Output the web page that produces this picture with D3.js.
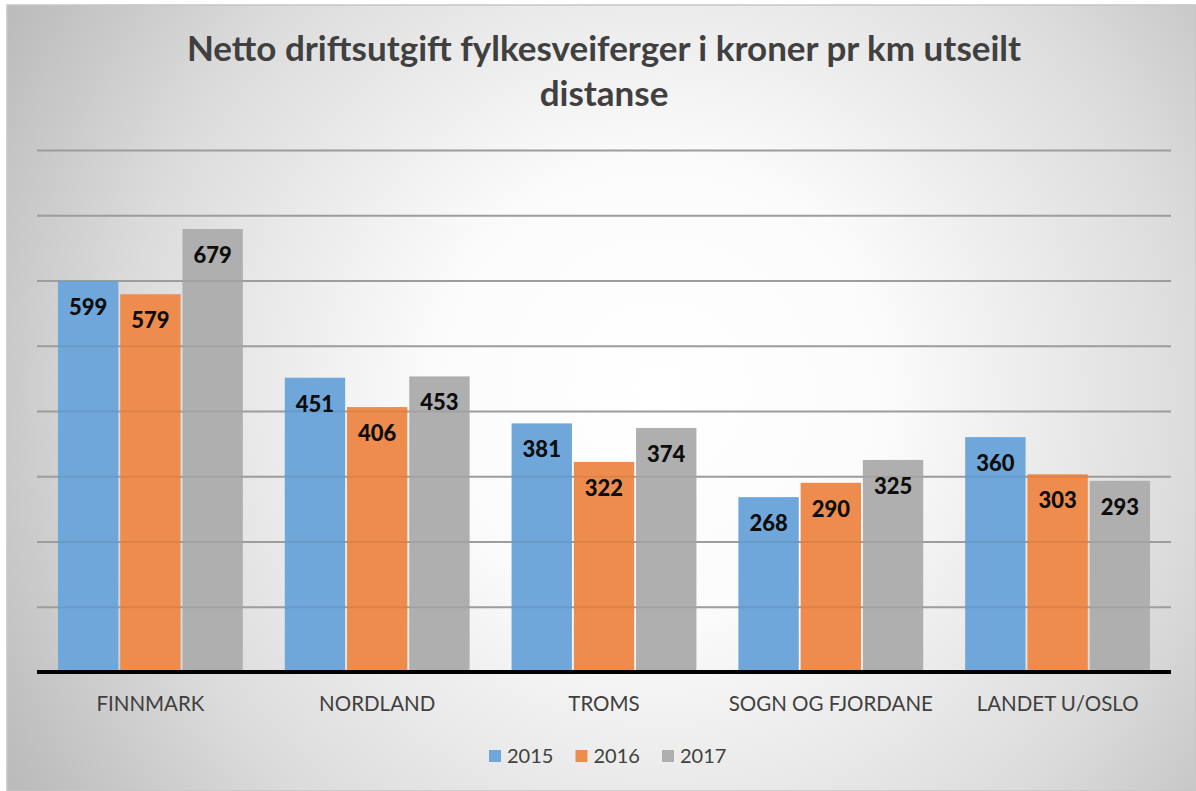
<!DOCTYPE html>
<html>
<head>
<meta charset="utf-8">
<script src="https://cdn.jsdelivr.net/npm/d3@7/dist/d3.min.js"></script>
<style>
  html, body { margin: 0; padding: 0; background: #ffffff; }
  svg { display: block; }
</style>
</head>
<body>
<svg id="chart" width="1196" height="791"></svg>
<script>
// Netto driftsutgift per km, fylkesveiferger
const categories = ["FINNMARK", "NORDLAND", "TROMS", "SOGN OG FJORDANE", "LANDET U/OSLO"];
const seriesNames = ["2015", "2016", "2017"];
const values2015 = [599, 451, 381, 268, 360];
const values2016 = [579, 406, 322, 290, 303];
const values2017 = [679, 453, 374, 325, 293];
const gridTicks = [100, 200, 300, 400, 500, 600, 700, 800];
const titleLines = ["Netto driftsutgift fylkesveiferger i kroner pr km utseilt", "distanse"];

const colors = { "2015": "#6fa7da", "2016": "#ee8c4d", "2017": "#afafaf" };
const seriesValues = { "2015": values2015, "2016": values2016, "2017": values2017 };

const W = 1196, H = 791;
const plot = { left: 37, right: 1171, top: 150, bottom: 672 };
const font = "Lato, 'Open Sans', 'DejaVu Sans', sans-serif";

const svg = d3.select("#chart");
const defs = svg.append("defs");

// chart area background: soft radial gradient
const grad = defs.append("radialGradient")
  .attr("id", "bg")
  .attr("gradientUnits", "userSpaceOnUse")
  .attr("cx", 660).attr("cy", 390).attr("r", 760);
grad.append("stop").attr("offset", "0").attr("stop-color", "#ffffff");
grad.append("stop").attr("offset", "0.3").attr("stop-color", "#fbfbfb");
grad.append("stop").attr("offset", "0.7").attr("stop-color", "#dcdcdc");
grad.append("stop").attr("offset", "1").attr("stop-color", "#bababa");

svg.append("rect")
  .attr("x", 7).attr("y", 5)
  .attr("width", W - 7).attr("height", H - 5)
  .attr("fill", "url(#bg)")
  .attr("stroke", "#c6c6c6").attr("stroke-width", 1.5);

// scales
const y = d3.scaleLinear().domain([0, 800]).range([plot.bottom, plot.top]);
const x0 = d3.scaleBand().domain(categories)
  .range([plot.left, plot.right])
  .paddingInner(0.185).paddingOuter(0.0925);
const x1 = d3.scaleBand().domain(seriesNames)
  .range([0, x0.bandwidth()])
  .paddingInner(0.03);

// horizontal gridlines
const gridAxis = d3.axisLeft(y).tickValues(gridTicks)
  .tickSize(-(plot.right - plot.left)).tickFormat("");
const grid = svg.append("g")
  .attr("transform", `translate(${plot.left},0)`)
  .call(gridAxis);
grid.select(".domain").remove();
grid.selectAll(".tick line")
  .attr("stroke", "#a9a9a9").attr("stroke-width", 2);

// bars
const rows = categories.map((c, i) => ({
  category: c,
  items: seriesNames.map(s => ({ series: s, value: seriesValues[s][i] }))
}));

const groups = svg.append("g").selectAll("g")
  .data(rows).join("g")
  .attr("transform", d => `translate(${x0(d.category)},0)`);

groups.selectAll("rect")
  .data(d => d.items).join("rect")
  .attr("x", d => x1(d.series))
  .attr("y", d => y(d.value))
  .attr("width", x1.bandwidth())
  .attr("height", d => y(0) - y(d.value))
  .attr("fill", d => colors[d.series]);

// gridlines faintly visible through the bars
const gridOver = svg.append("g")
  .attr("transform", `translate(${plot.left},0)`)
  .call(gridAxis);
gridOver.select(".domain").remove();
gridOver.selectAll(".tick line")
  .attr("stroke", "#000").attr("stroke-opacity", 0.07).attr("stroke-width", 2);

// value labels inside bar ends
groups.selectAll("text.val")
  .data(d => d.items).join("text")
  .attr("class", "val")
  .attr("x", d => x1(d.series) + x1.bandwidth() / 2)
  .attr("y", d => y(d.value) + 34)
  .attr("text-anchor", "middle")
  .attr("font-family", font)
  .attr("font-weight", 900)
  .attr("font-size", 22)
  .attr("fill", "#0d0d0d")
  .text(d => d.value);

// category axis
const xAxis = svg.append("g")
  .attr("transform", `translate(0,${plot.bottom})`)
  .call(d3.axisBottom(x0).tickSize(0).tickPadding(24));
xAxis.select(".domain")
  .attr("stroke", "#000").attr("stroke-width", 4)
  .attr("d", `M${plot.left},0H${plot.right}`);
xAxis.selectAll("text")
  .attr("font-family", font)
  .attr("font-size", 20.5)
  .attr("fill", "#404040");

// title
svg.append("g").selectAll("text")
  .data(titleLines).join("text")
  .attr("x", (plot.left + plot.right) / 2)
  .attr("y", (d, i) => 61 + i * 45)
  .attr("text-anchor", "middle")
  .attr("font-family", font)
  .attr("font-weight", 700)
  .attr("font-size", 35)
  .attr("fill", "#404040")
  .text(d => d);

// legend
const legend = svg.append("g").attr("transform", "translate(489,750)");
const legendItems = legend.selectAll("g")
  .data(seriesNames).join("g")
  .attr("transform", (d, i) => `translate(${i * 86.5},0)`);
legendItems.append("rect")
  .attr("width", 12).attr("height", 12)
  .attr("fill", d => colors[d]);
legendItems.append("text")
  .attr("x", 18).attr("y", 13)
  .attr("font-family", font)
  .attr("font-size", 20)
  .attr("fill", "#404040")
  .text(d => d);
</script>
</body>
</html>
